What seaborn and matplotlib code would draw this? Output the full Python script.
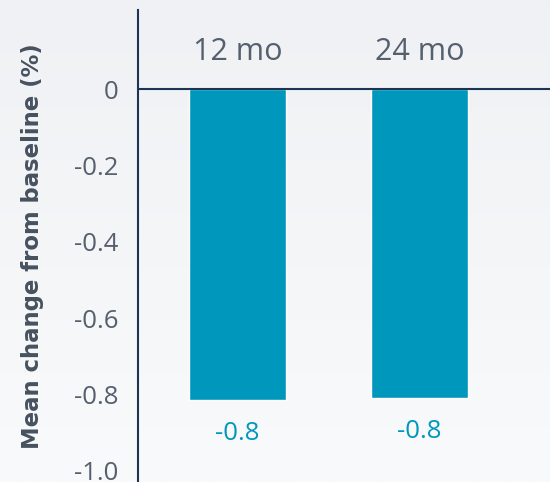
import numpy as np
import pandas as pd
import matplotlib
matplotlib.use("Agg")
import matplotlib.pyplot as plt
import seaborn as sns
from matplotlib.colors import LinearSegmentedColormap

categories = ["12 mo", "24 mo"]
values = [-0.815, -0.81]
value_labels = ["-0.8", "-0.8"]
y_ticks = [0, -0.2, -0.4, -0.6, -0.8, -1.0]
y_tick_labels = ["0", "-0.2", "-0.4", "-0.6", "-0.8", "-1.0"]

sns.set_theme(style="white")
plt.rcParams["font.family"] = ["Open Sans", "DejaVu Sans"]

BAR = "#0097BD"
TXT = "#55606e"
NAVY = "#1d3553"

fig = plt.figure(figsize=(5.5, 4.82), dpi=100)
# background gradient
bg = fig.add_axes([0, 0, 1, 1], zorder=-10)
grad = np.linspace(0, 1, 256).reshape(-1, 1)
cmap = LinearSegmentedColormap.from_list("bg", ["#eff1f4", "#f9fafb"])
bg.imshow(grad, aspect="auto", cmap=cmap, extent=[0, 1, 0, 1])
bg.axis("off")

ax = fig.add_axes([138 / 550, 0, 1 - 138 / 550, 1 - 10 / 482])
ax.patch.set_alpha(0)
df = pd.DataFrame({"cat": categories, "val": values})
sns.barplot(data=df, x="cat", y="val", color=BAR, saturation=1, width=0.535, ax=ax)

ax.set_xlim(-0.547, 1.717)
ax.set_ylim(-1.029, 0.207)
ax.set_yticks(y_ticks)
ax.set_yticklabels(y_tick_labels, fontsize=18.5, color=TXT)
ax.tick_params(axis="y", length=0, pad=14)
ax.set_xticks([])
ax.set_xlabel("")
ax.set_ylabel("Mean change from baseline (%)", fontsize=16.4, fontweight="bold",
              color="#46525f", family="DejaVu Sans")
ax.yaxis.set_label_coords(-0.228, 0.5)

for s in ["top", "right", "bottom"]:
    ax.spines[s].set_visible(False)
ax.spines["left"].set_color(NAVY)
ax.spines["left"].set_linewidth(1.5)
ax.axhline(0, color=NAVY, lw=1.5, zorder=3)

for i, (c, v, lab) in enumerate(zip(categories, values, value_labels)):
    ax.text(i, 0.097, c, ha="center", va="center", fontsize=22, color=TXT)
    ax.text(i, v - 0.086, lab, ha="center", va="center", fontsize=18.5, color=BAR)

fig.savefig("out.png", dpi=100)
